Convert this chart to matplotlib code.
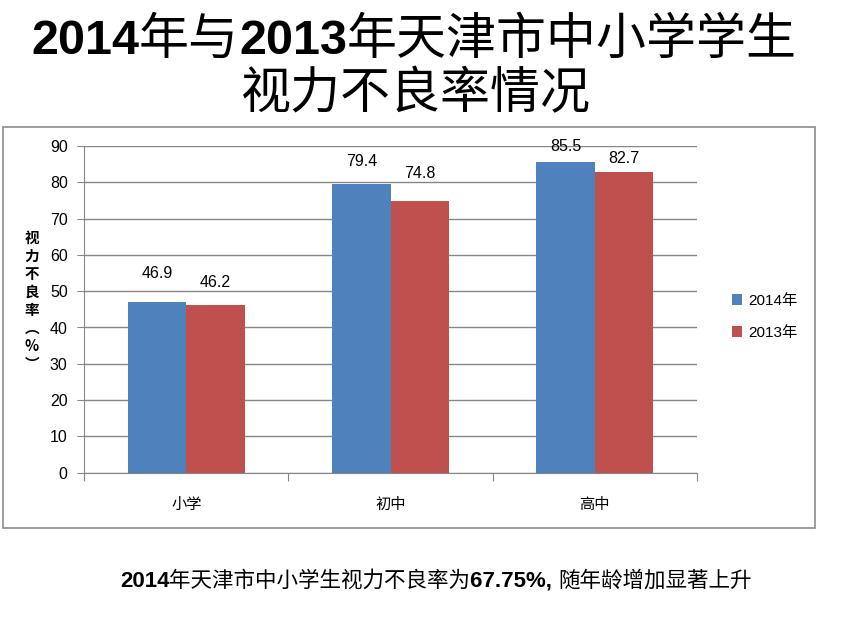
import re
import matplotlib
matplotlib.use('Agg')
import matplotlib.pyplot as plt
from matplotlib import font_manager
from matplotlib.patches import Rectangle

# data
categories = ['小学', '初中', '高中']
years = ['2014年', '2013年']
rate_2014 = [46.9, 79.4, 85.5]
rate_2013 = [46.2, 74.8, 82.7]
title_lines = ['2014年与2013年天津市中小学学生', '视力不良率情况']
subtitle = '2014年天津市中小学生视力不良率为67.75%, 随年龄增加显著上升'
ylabel_chars = ['视', '力', '不', '良', '率', '︵', '%', '︶']

# the value labels sit at uneven heights above the bars (pixels, bar top -> baseline)
label_gap_2014 = [24, 18, 11.5]
label_gap_2013 = [18, 23, 9.5]

W, H = 842, 619
BLUE = '#4F81BD'
RED = '#C0504D'
GRID = '#868686'
CJK = 'Noto Sans CJK SC'

names = {f.name for f in font_manager.fontManager.ttflist}
NARROW = 'Liberation Sans Narrow' if 'Liberation Sans Narrow' in names else 'Liberation Sans'

plt.rcParams['font.family'] = ['Liberation Sans', CJK, 'DejaVu Sans']

fig = plt.figure(figsize=(W / 100, H / 100), dpi=100)
renderer = fig.canvas.get_renderer()


def px(x, y):
    return x / W, 1 - y / H


def mixed_text(cx, y, s, lat_font, lat_size, cjk_size, cjk_weight='normal'):
    """Draw a line where digits are bold latin and the rest is CJK, centred on cx."""
    runs = re.findall(r'[0-9.%, ]+|[^0-9.%, ]+', s)
    placed = []
    x = 0
    for r in runs:
        if r[0] in '0123456789.%, ':
            t = fig.text(0, 1 - y / H, r, family=[lat_font, CJK], fontsize=lat_size,
                         fontweight='bold', va='baseline', ha='left')
        else:
            t = fig.text(0, 1 - y / H, r, family=[CJK], fontsize=cjk_size,
                         fontweight=cjk_weight, va='baseline', ha='left')
        w = t.get_window_extent(renderer).width
        placed.append((t, x))
        x += w
    start = cx - x / 2
    for t, off in placed:
        t.set_x((start + off) / W)


# outer chart frame
fig.add_artist(Rectangle(px(3, 528), 812 / W, 401 / H, transform=fig.transFigure,
                         fill=False, edgecolor='#8c8c8c', lw=1.2))

left, right, top, bottom = 84.3, 696.7, 146, 472.7
ax = fig.add_axes([left / W, 1 - bottom / H, (right - left) / W, (bottom - top) / H])

x = range(len(categories))
bw = 0.285
b1 = ax.bar([i - bw / 2 for i in x], rate_2014, width=bw, color=BLUE, label=years[0], zorder=3)
b2 = ax.bar([i + bw / 2 for i in x], rate_2013, width=bw, color=RED, label=years[1], zorder=3)

for bars, vals, gaps in ((b1, rate_2014, label_gap_2014), (b2, rate_2013, label_gap_2013)):
    for rect, v, g in zip(bars, vals, gaps):
        ax.annotate(f'{v}', (rect.get_x() + rect.get_width() / 2, v), xytext=(0, g * 0.72),
                    textcoords='offset points', ha='center', va='baseline', fontsize=11.5)

ax.set_xlim(-0.5, 2.5)
ax.set_ylim(0, 90)
ax.set_yticks(range(0, 91, 10))
ax.tick_params(axis='y', length=5, color=GRID, labelsize=11.5, pad=7)
ax.set_xticks([-0.5, 0.5, 1.5, 2.5])
ax.set_xticklabels([])
ax.set_xticks(list(x), minor=True)
ax.set_xticklabels(categories, minor=True, fontsize=11)
ax.tick_params(axis='x', which='major', length=6, color=GRID)
ax.tick_params(axis='x', which='minor', length=0, pad=18)
ax.grid(axis='y', color=GRID, lw=1, zorder=0)
for s in ('top', 'right'):
    ax.spines[s].set_visible(False)
for s in ('left', 'bottom'):
    ax.spines[s].set_color(GRID)

fig.legend(handles=[b1, b2], loc='center left', bbox_to_anchor=px(718, 317),
           frameon=False, fontsize=11, handlelength=0.7, handleheight=0.7,
           handletextpad=0.35, labelspacing=1.2)

# vertical y-axis label
ys = [238, 256, 274, 292, 310, 328, 346, 364]
for ch, yy in zip(ylabel_chars, ys):
    fig.text(32 / W, 1 - yy / H, ch, family=[CJK, 'DejaVu Sans'], fontsize=10.5,
             fontweight='bold', ha='center', va='center')

mixed_text(414, 54, title_lines[0], NARROW, 35, 36)
mixed_text(415, 108, title_lines[1], NARROW, 35, 36)
mixed_text(436, 587, subtitle, NARROW, 16, 15.5, 'medium')

fig.savefig('out.png', dpi=100)
